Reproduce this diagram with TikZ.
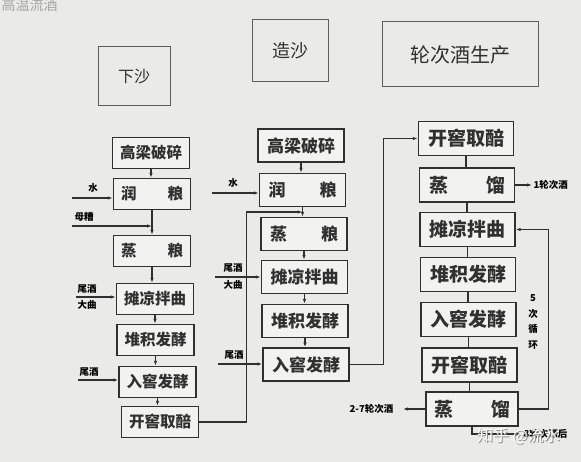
\documentclass[tikz,border=0pt]{standalone}
\usepackage{fontspec}
\setmainfont{Noto Sans CJK SC}
\usetikzlibrary{arrows.meta}
\definecolor{paper}{RGB}{234,234,232}
\definecolor{ink}{RGB}{48,48,48}
\definecolor{tline}{RGB}{95,95,95}
\begin{document}
\begin{tikzpicture}[x=1pt,y=-1pt,
  box/.style={draw=ink, line width=1.4pt, inner sep=0pt, text=ink, fill=paper!60!white},
  bA/.style={box, minimum width=77pt, minimum height=31pt, font=\bfseries\fontsize{15.5}{16}\selectfont},
  bB/.style={box, minimum width=86pt, minimum height=33pt, font=\bfseries\fontsize{17}{18}\selectfont},
  bC/.style={box, minimum width=95pt, minimum height=34pt, font=\bfseries\fontsize{19}{20}\selectfont},
  ttl/.style={draw=tline, line width=1pt, inner sep=0pt, text=ink},
  lbl/.style={font=\bfseries\fontsize{9.5}{10}\selectfont, text=black, inner sep=0.5pt},
  conn/.style={draw=ink, line width=1.3pt},
  arr/.style={conn, -{Latex[length=5pt,width=3.5pt]}}
]
\useasboundingbox (0,0) rectangle (581,462);
\fill[paper] (0,0) rectangle (581,462);
\node[anchor=west, text=gray!70, font=\fontsize{14}{14}\selectfont] (cut) at (-2,5) {高温流酒};

% titles
\node[ttl, minimum width=72pt, minimum height=59pt, font=\fontsize{16}{16}\selectfont] (t1) at (134,76.5) {下沙};
\node[ttl, minimum width=76pt, minimum height=62pt, font=\fontsize{18}{18}\selectfont] (t2) at (290,51) {造沙};
\node[ttl, minimum width=156pt, minimum height=65pt, font=\fontsize{20}{20}\selectfont] (t3) at (460,54.5) {轮次酒生产};

% column 1
\node[bA] (c1a) at (151,153) {高梁破碎};
\node[bA] (c1b) at (152,194) {润\hspace{2em}粮};
\node[bA] (c1c) at (152,251) {蒸\hspace{2em}粮};
\node[bA] (c1d) at (155,299) {摊凉拌曲};
\node[bA] (c1e) at (155.5,340) {堆积发酵};
\node[bA] (c1f) at (157.5,382) {入窖发酵};
\node[bA] (c1g) at (160,422) {开窖取醅};
\foreach \a/\b in {c1a/c1b,c1b/c1c,c1c/c1d,c1d/c1e,c1e/c1f,c1f/c1g}
  \draw[arr] (\a.south) -- (\a.south |- \b.north);

\coordinate (w1) at (72,198);
\draw[arr] (w1) -- (w1 -| c1b.west);
\node[lbl] (lw1) at (93,188) {水};
\coordinate (m1) at (72,226);
\draw[arr] (m1) -- (m1 -| c1b.south);
\node[lbl] (lm1) at (84,217) {母糟};
\coordinate (d1) at (76,297);
\draw[arr] (d1) -- (d1 -| c1d.west);
\node[lbl] (lw2) at (87,289) {尾酒};
\node[lbl] (ld1) at (87,305) {大曲};
\coordinate (r1) at (78,380);
\draw[arr] (r1) -- (r1 -| c1f.west);
\node[lbl] (lw3) at (89,372) {尾酒};

% column 2
\node[bB] (c2a) at (301,145.5) {高梁破碎};
\node[bB] (c2b) at (302.5,190) {润\hspace{2em}粮};
\node[bB] (c2c) at (304,234) {蒸\hspace{2em}粮};
\node[bB] (c2d) at (304.5,277) {摊凉拌曲};
\node[bB] (c2e) at (305,321) {堆积发酵};
\node[bB] (c2f) at (306,364.5) {入窖发酵};
\foreach \a/\b in {c2a/c2b,c2b/c2c,c2c/c2d,c2d/c2e,c2e/c2f}
  \draw[arr] (\a.south) -- (\a.south |- \b.north);

\coordinate (j1) at (302.5,212);
\draw[arr] (c1g.east) -- ++(47,0) |- (j1);

\coordinate (w2) at (212,193);
\draw[arr] (w2) -- (w2 -| c2b.west);
\node[lbl] (lw4) at (233,183) {水};
\coordinate (d2) at (215,277);
\draw[arr] (d2) -- (d2 -| c2d.west);
\node[lbl] (lw5) at (233,268) {尾酒};
\node[lbl] (ld2) at (233,285) {大曲};
\coordinate (r2) at (218,364);
\draw[arr] (r2) -- (r2 -| c2f.west);
\node[lbl] (lw6) at (234,355) {尾酒};

% column 3
\node[bC] (c3a) at (466,138.5) {开窖取醅};
\node[bC] (c3b) at (467,185) {蒸\hspace{2em}馏};
\node[bC] (c3c) at (467.5,229.5) {摊凉拌曲};
\node[bC] (c3d) at (468,274.5) {堆积发酵};
\node[bC] (c3e) at (468.5,319.5) {入窖发酵};
\node[bC] (c3f) at (469.5,365) {开窖取醅};
\node[bC, minimum width=92pt] (c3g) at (472,409) {蒸\hspace{2em}馏};
\foreach \a/\b in {c3a/c3b,c3b/c3c,c3c/c3d,c3d/c3e,c3e/c3f,c3f/c3g}
  \draw[conn] (\a.south) -- (\a.south |- \b.north);

\draw[arr] (c2f.east) -- ++(34,0) |- (c3a.west);

\coordinate (o1) at (532,185);
\draw[arr] (c3b.east) -- (o1);
\node[lbl, anchor=west] (lo1) at (533,185) {1轮次酒};
\draw[arr] (c3g.east) -- ++(30,0) |- (c3c.east);
\node[lbl, align=center, font=\bfseries\fontsize{9.5}{15.5}\selectfont] (loop) at (533,322) {5\\次\\循\\环};
\coordinate (o2) at (403,409);
\draw[arr] (c3g.west) -- (o2);
\node[lbl, anchor=east] (lo2) at (394,409) {2-7轮次酒};
\coordinate (o3) at (521,434);
\draw[arr] (c3g.south) |- (o3);
\node[lbl, anchor=west] (lo3) at (523,434) {8轮次酒后};

% watermark
\node[anchor=west, text=black!45, font=\fontsize{16}{16}\selectfont] (wms) at (474.6,437.6) {知乎 @流水};
\node[anchor=west, text=white, font=\fontsize{16}{16}\selectfont] (wm) at (473.5,436.5) {知乎 @流水};
\end{tikzpicture}
\end{document}
